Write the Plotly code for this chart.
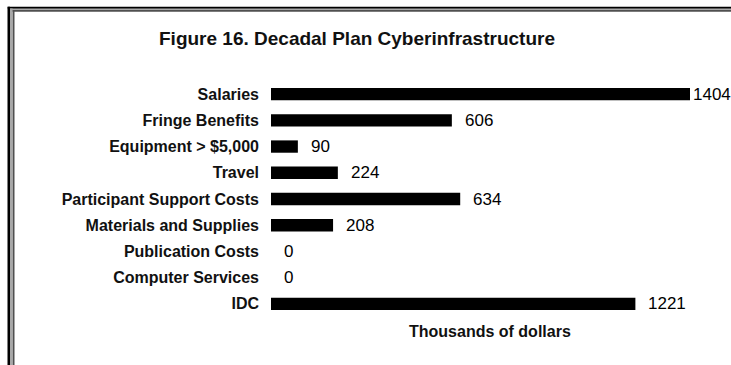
import plotly.graph_objects as go

# Budget categories (top to bottom) and amounts in thousands of dollars
categories = [
    "Salaries",
    "Fringe Benefits",
    "Equipment > $5,000",
    "Travel",
    "Participant Support Costs",
    "Materials and Supplies",
    "Publication Costs",
    "Computer Services",
    "IDC",
]
values = [1404, 606, 90, 224, 634, 208, 0, 0, 1221]

title_text = "Figure 16. Decadal Plan Cyberinfrastructure"
axis_title_text = "Thousands of dollars"

# Canvas and plot-area geometry (pixels)
W, H = 731, 365
L, R, T, B = 271, 41, 81, 48
PW, PH = W - L - R, H - T - B


def px_x(p):
    return (p - L) / PW


def px_y(p):
    return 1 - (p - T) / PH


FONT = "Liberation Sans, Arial, sans-serif"

fig = go.Figure(
    go.Bar(
        x=values,
        y=categories,
        orientation="h",
        width=0.47,
        marker=dict(color="#000000", line=dict(width=0)),
        hoverinfo="skip",
    )
)

# value labels beside each bar (the longest one sits flush against its bar)
label_gap = [1 if v == max(values) else 11 for v in values]
for cat, v, gap in zip(categories, values, label_gap):
    fig.add_annotation(
        x=v, y=cat, xref="x", yref="y",
        text=str(v), showarrow=False,
        xanchor="left", yanchor="middle", xshift=gap, yshift=0,
        font=dict(family=FONT, size=17, color="#000000"),
    )

# chart title and axis caption
fig.add_annotation(
    x=px_x(357), y=px_y(38.5), xref="paper", yref="paper",
    text=title_text, showarrow=False, xanchor="center", yanchor="middle",
    font=dict(family=FONT, size=19, color="#111111", weight="bold"),
)
fig.add_annotation(
    x=px_x(490), y=px_y(331), xref="paper", yref="paper",
    text=axis_title_text, showarrow=False, xanchor="center", yanchor="middle",
    font=dict(family=FONT, size=16, color="#111111", weight="bold"),
)

# framed border along the top and left edges
frame = [
    ("#000000", 8.75, 7.7, 2.5, 2.0),
    ("#a8a8a8", 11.3, 9.4, 2.6, 1.4),
    ("#505050", 13.6, 10.9, 1.8, 1.6),
]
for color, fx, fy, wv, wh in frame:
    fig.add_shape(type="line", xref="paper", yref="paper",
                  x0=px_x(fx), x1=px_x(fx), y0=px_y(fy - 1), y1=px_y(H + 5),
                  line=dict(color=color, width=wv))
    fig.add_shape(type="line", xref="paper", yref="paper",
                  x0=px_x(fx - 1), x1=px_x(W + 5), y0=px_y(fy), y1=px_y(fy),
                  line=dict(color=color, width=wh))

fig.update_layout(
    width=W, height=H,
    margin=dict(l=L, r=R, t=T, b=B, pad=0),
    paper_bgcolor="#ffffff", plot_bgcolor="#ffffff",
    showlegend=False,
    bargap=0.5,
    xaxis=dict(range=[0, max(values)], visible=False, fixedrange=True),
    yaxis=dict(
        type="category",
        categoryorder="array", categoryarray=categories,
        autorange="reversed",
        showgrid=False, zeroline=False, showline=False, ticks="",
        ticklabelstandoff=11,
        tickfont=dict(family=FONT, size=16, color="#111111", weight="bold"),
        fixedrange=True,
    ),
)

fig.write_html("out.html", config={"displayModeBar": False})
